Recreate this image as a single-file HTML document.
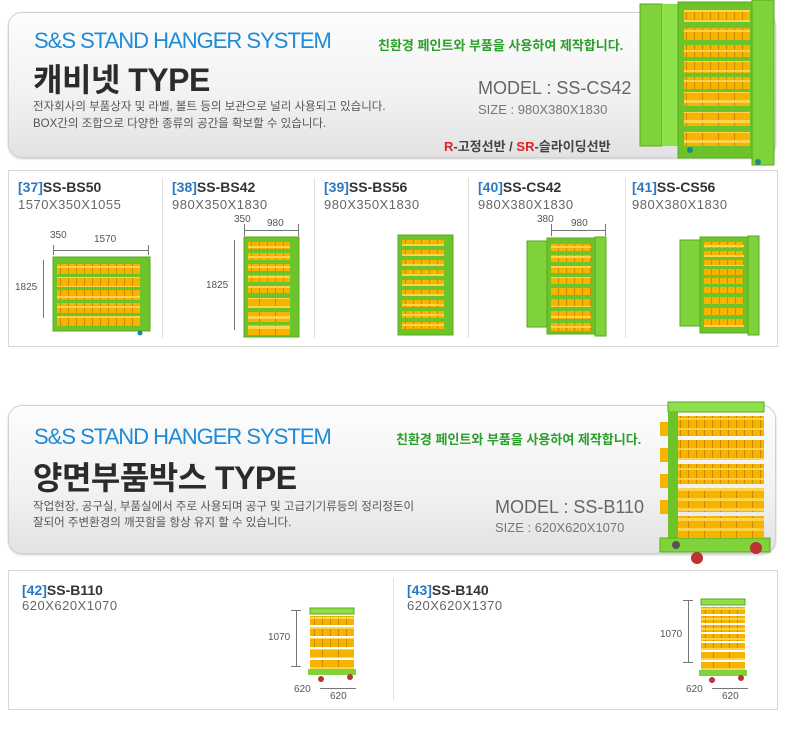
<!DOCTYPE html>
<html><head><meta charset="utf-8"><style>
body{margin:0;width:786px;height:731px;background:#fff;position:relative;overflow:hidden;font-family:"Liberation Sans","Noto Sans CJK KR",sans-serif}
.a{position:absolute;white-space:nowrap}
.ban{position:absolute;left:8px;width:766px;border:1px solid #d0d0d0;border-radius:14px;background:linear-gradient(#fdfdfd 0%,#f1f1f1 60%,#e2e2e2 100%);box-shadow:0 1px 2px #ccc}
.strip{position:absolute;left:8px;width:768px;border:1px solid #d8d8d8;background:#fff}
.sys{font-size:22px;color:#1f8ad6;letter-spacing:-1px}
.tt{font-size:32px;font-weight:bold;color:#2b2b2b;letter-spacing:-0.5px}
.ds{font-size:11.5px;color:#555;line-height:17px}
.gr{font-size:13px;font-weight:bold;color:#2aa02a}
.md{font-size:18px;color:#666}
.sz{font-size:13px;color:#777}
.pl{font-size:14px;font-weight:bold;color:#333}
.pl b{color:#2c78bf}
.ps{font-size:13px;color:#666;letter-spacing:0.5px}
.dm{font-size:10px;color:#555}
.vl{position:absolute;width:1px;background:#777}
.hl{position:absolute;height:1px;background:#777}
.vd{position:absolute;width:1px;background:#e0e0e0}
</style></head><body>
<svg width="0" height="0" style="position:absolute"><defs>
<pattern id="bn" width="8" height="10" patternUnits="userSpaceOnUse"><rect width="8" height="10" fill="#f6b400"/><rect x="0" y="0" width="1" height="10" fill="#c98a00"/><rect x="0" y="0" width="8" height="2" fill="#ffd24a"/></pattern>
<pattern id="bnb" width="16" height="10" patternUnits="userSpaceOnUse"><rect width="16" height="10" fill="#f6b400"/><rect x="0" y="0" width="1" height="10" fill="#c98a00"/><rect x="0" y="0" width="16" height="3" fill="#ffd24a"/></pattern>
</defs></svg>

<!-- Banner 1 -->
<div class="ban" style="top:12px;height:144px"></div>
<div class="a sys" style="left:34px;top:28px">S&amp;S STAND HANGER SYSTEM</div>
<div class="a tt" style="left:33px;top:55px">캐비넷 TYPE</div>
<div class="a ds" style="left:33px;top:99px">전자회사의 부품상자 및 라벨, 볼트 등의 보관으로 널리 사용되고 있습니다.<br>BOX간의 조합으로 다양한 종류의 공간을 확보할 수 있습니다.</div>
<div class="a gr" style="left:378px;top:35px">친환경 페인트와 부품을 사용하여 제작합니다.</div>
<div class="a md" style="left:478px;top:78px">MODEL : SS-CS42</div>
<div class="a sz" style="left:478px;top:102px">SIZE : 980X380X1830</div>
<div class="a" style="left:444px;top:136px;font-size:13px;font-weight:bold;color:#444"><span style="color:#e02020">R</span>-고정선반 / <span style="color:#e02020">SR</span>-슬라이딩선반</div>
<svg class="a" style="left:638px;top:0" width="140" height="168">
<rect x="2" y="4" width="22" height="142" fill="#7fd23a" stroke="#5aa820"/>
<rect x="24" y="4" width="16" height="142" fill="#8ee04a"/>
<rect x="40" y="2" width="76" height="156" fill="#6cc42a" stroke="#5aa820"/>
<rect x="114" y="0" width="22" height="165" fill="#7fd23a" stroke="#5aa820"/>
<g fill="url(#bn)"><rect x="46" y="10" width="66" height="12"/><rect x="46" y="28" width="66" height="12"/><rect x="46" y="45" width="66" height="12"/><rect x="46" y="61" width="66" height="12"/><rect x="46" y="77" width="66" height="12"/></g>
<g fill="url(#bnb)"><rect x="46" y="92" width="66" height="14"/><rect x="46" y="112" width="66" height="14"/><rect x="46" y="132" width="66" height="14"/></g>
<circle cx="52" cy="150" r="3" fill="#1a8a8a"/><circle cx="120" cy="162" r="3" fill="#1a8a8a"/>
</svg>

<!-- Strip 1 -->
<div class="strip" style="top:170px;height:175px"></div>
<div class="vd" style="left:162px;top:178px;height:160px"></div>
<div class="vd" style="left:314px;top:178px;height:160px"></div>
<div class="vd" style="left:468px;top:178px;height:160px"></div>
<div class="vd" style="left:625px;top:178px;height:160px"></div>
<div class="a pl" style="left:18px;top:179px"><b>[37]</b>SS-BS50</div><div class="a ps" style="left:18px;top:197px">1570X350X1055</div>
<div class="a pl" style="left:172px;top:179px"><b>[38]</b>SS-BS42</div><div class="a ps" style="left:172px;top:197px">980X350X1830</div>
<div class="a pl" style="left:324px;top:179px"><b>[39]</b>SS-BS56</div><div class="a ps" style="left:324px;top:197px">980X350X1830</div>
<div class="a pl" style="left:478px;top:179px"><b>[40]</b>SS-CS42</div><div class="a ps" style="left:478px;top:197px">980X380X1830</div>
<div class="a pl" style="left:632px;top:179px"><b>[41]</b>SS-CS56</div><div class="a ps" style="left:632px;top:197px">980X380X1830</div>

<!-- 37 -->
<div class="a dm" style="left:50px;top:230px">350</div><div class="a dm" style="left:94px;top:234px">1570</div>
<div class="hl" style="left:53px;top:250px;width:95px"></div><div class="vl" style="left:53px;top:245px;height:10px"></div><div class="vl" style="left:148px;top:245px;height:10px"></div>
<div class="vl" style="left:43px;top:260px;height:58px"></div><div class="a dm" style="left:15px;top:282px">1825</div>
<svg class="a" style="left:52px;top:256px" width="100" height="80">
<rect x="1" y="1" width="97" height="74" fill="#6cc42a" stroke="#5aa820"/>
<g fill="url(#bn)"><rect x="5" y="8" width="83" height="10"/><rect x="5" y="21" width="83" height="10"/><rect x="5" y="34" width="83" height="10"/><rect x="5" y="47" width="83" height="10"/><rect x="5" y="60" width="83" height="10"/></g>
<circle cx="88" cy="77" r="2.5" fill="#1a8a8a"/>
</svg>
<!-- 38 -->
<div class="a dm" style="left:234px;top:214px">350</div><div class="a dm" style="left:267px;top:218px">980</div>
<div class="hl" style="left:244px;top:230px;width:54px"></div><div class="vl" style="left:244px;top:224px;height:12px"></div><div class="vl" style="left:298px;top:224px;height:12px"></div>
<div class="vl" style="left:234px;top:240px;height:90px"></div><div class="a dm" style="left:206px;top:280px">1825</div>
<svg class="a" style="left:243px;top:236px" width="58" height="104">
<rect x="1" y="1" width="55" height="100" fill="#6cc42a" stroke="#5aa820"/>
<g fill="url(#bn)"><rect x="5" y="6" width="42" height="7"/><rect x="5" y="17" width="42" height="7"/><rect x="5" y="28" width="42" height="7"/><rect x="5" y="39" width="42" height="7"/><rect x="5" y="50" width="42" height="7"/></g>
<g fill="url(#bnb)"><rect x="5" y="62" width="42" height="10"/><rect x="5" y="76" width="42" height="10"/><rect x="5" y="89" width="42" height="10"/></g>
</svg>
<!-- 39 -->
<svg class="a" style="left:397px;top:234px" width="58" height="104">
<rect x="1" y="1" width="55" height="100" fill="#6cc42a" stroke="#5aa820"/>
<g fill="url(#bn)"><rect x="5" y="6" width="42" height="6"/><rect x="5" y="16" width="42" height="6"/><rect x="5" y="26" width="42" height="6"/><rect x="5" y="36" width="42" height="6"/><rect x="5" y="46" width="42" height="6"/><rect x="5" y="56" width="42" height="6"/><rect x="5" y="66" width="42" height="7"/><rect x="5" y="77" width="42" height="7"/><rect x="5" y="88" width="42" height="7"/></g>
</svg>
<!-- 40 -->
<div class="a dm" style="left:537px;top:214px">380</div><div class="a dm" style="left:571px;top:218px">980</div>
<div class="hl" style="left:551px;top:230px;width:54px"></div><div class="vl" style="left:551px;top:224px;height:12px"></div><div class="vl" style="left:605px;top:224px;height:12px"></div>
<svg class="a" style="left:526px;top:236px" width="82" height="102">
<rect x="1" y="5" width="20" height="86" fill="#7fd23a" stroke="#5aa820"/>
<rect x="21" y="2" width="48" height="96" fill="#6cc42a" stroke="#5aa820"/>
<rect x="69" y="1" width="11" height="99" fill="#7fd23a" stroke="#5aa820"/>
<g fill="url(#bn)"><rect x="25" y="8" width="40" height="7"/><rect x="25" y="19" width="40" height="7"/><rect x="25" y="30" width="40" height="7"/><rect x="25" y="41" width="40" height="7"/><rect x="25" y="52" width="40" height="7"/><rect x="25" y="63" width="40" height="8"/><rect x="25" y="75" width="40" height="8"/><rect x="25" y="87" width="40" height="8"/></g>
</svg>
<!-- 41 -->
<svg class="a" style="left:679px;top:235px" width="82" height="102">
<rect x="1" y="5" width="20" height="86" fill="#7fd23a" stroke="#5aa820"/>
<rect x="21" y="2" width="48" height="96" fill="#6cc42a" stroke="#5aa820"/>
<rect x="69" y="1" width="11" height="99" fill="#7fd23a" stroke="#5aa820"/>
<g fill="url(#bn)"><rect x="25" y="7" width="40" height="6"/><rect x="25" y="16" width="40" height="6"/><rect x="25" y="25" width="40" height="6"/><rect x="25" y="34" width="40" height="6"/><rect x="25" y="43" width="40" height="6"/><rect x="25" y="52" width="40" height="6"/><rect x="25" y="62" width="40" height="7"/><rect x="25" y="73" width="40" height="7"/><rect x="25" y="84" width="40" height="8"/></g>
</svg>

<!-- Banner 2 -->
<div class="ban" style="top:405px;height:147px"></div>
<div class="a sys" style="left:34px;top:424px">S&amp;S STAND HANGER SYSTEM</div>
<div class="a tt" style="left:33px;top:453px">양면부품박스 TYPE</div>
<div class="a ds" style="left:33px;top:499px;line-height:16px">작업현장, 공구실, 부품실에서 주로 사용되며 공구 및 고급기기류등의 정리정돈이<br>잘되어 주변환경의 깨끗함을 항상 유지 할 수 있습니다.</div>
<div class="a gr" style="left:396px;top:429px">친환경 페인트와 부품을 사용하여 제작합니다.</div>
<div class="a md" style="left:495px;top:497px">MODEL : SS-B110</div>
<div class="a sz" style="left:495px;top:520px">SIZE : 620X620X1070</div>
<svg class="a" style="left:656px;top:398px" width="120" height="172">
<rect x="12" y="4" width="96" height="10" fill="#8ee04a" stroke="#5aa820"/>
<rect x="12" y="14" width="10" height="130" fill="#6cc42a"/>
<rect x="4" y="140" width="110" height="14" fill="#7fd23a" stroke="#5aa820"/>
<g fill="url(#bn)"><rect x="22" y="18" width="86" height="20"/><rect x="22" y="42" width="86" height="20"/><rect x="22" y="66" width="86" height="20"/></g>
<g fill="url(#bnb)"><rect x="22" y="90" width="86" height="24"/><rect x="22" y="118" width="86" height="22"/></g>
<g fill="#f6b400"><rect x="4" y="24" width="8" height="14"/><rect x="4" y="50" width="8" height="14"/><rect x="4" y="76" width="8" height="14"/><rect x="4" y="102" width="8" height="14"/></g>
<circle cx="41" cy="160" r="6" fill="#b33"/><circle cx="100" cy="150" r="6" fill="#b33"/><circle cx="20" cy="147" r="4" fill="#555"/>
</svg>

<!-- Strip 2 -->
<div class="strip" style="top:570px;height:138px"></div>
<div class="vd" style="left:393px;top:578px;height:122px"></div>
<div class="a pl" style="left:22px;top:582px"><b>[42]</b>SS-B110</div><div class="a ps" style="left:22px;top:598px">620X620X1070</div>
<div class="a pl" style="left:407px;top:582px"><b>[43]</b>SS-B140</div><div class="a ps" style="left:407px;top:598px">620X620X1370</div>
<!-- 42 -->
<div class="vl" style="left:296px;top:610px;height:56px"></div><div class="hl" style="left:291px;top:610px;width:10px"></div><div class="hl" style="left:291px;top:666px;width:10px"></div>
<div class="a dm" style="left:268px;top:632px">1070</div>
<div class="a dm" style="left:294px;top:684px">620</div><div class="a dm" style="left:330px;top:691px">620</div>
<div class="hl" style="left:320px;top:688px;width:36px"></div>
<svg class="a" style="left:306px;top:607px" width="52" height="80">
<rect x="4" y="1" width="44" height="6" fill="#8ee04a" stroke="#5aa820"/>
<rect x="2" y="62" width="48" height="6" fill="#7fd23a"/>
<g fill="url(#bn)"><rect x="4" y="9" width="44" height="9"/><rect x="4" y="20" width="44" height="9"/><rect x="4" y="31" width="44" height="9"/></g>
<g fill="url(#bnb)"><rect x="4" y="42" width="44" height="9"/><rect x="4" y="53" width="44" height="9"/></g>
<circle cx="15" cy="72" r="3" fill="#b33"/><circle cx="44" cy="70" r="3" fill="#b33"/>
</svg>
<!-- 43 -->
<div class="vl" style="left:688px;top:600px;height:62px"></div><div class="hl" style="left:683px;top:600px;width:10px"></div><div class="hl" style="left:683px;top:662px;width:10px"></div>
<div class="a dm" style="left:660px;top:629px">1070</div>
<div class="a dm" style="left:686px;top:684px">620</div><div class="a dm" style="left:722px;top:691px">620</div>
<div class="hl" style="left:712px;top:688px;width:36px"></div>
<svg class="a" style="left:697px;top:598px" width="52" height="90">
<rect x="4" y="1" width="44" height="6" fill="#8ee04a" stroke="#5aa820"/>
<rect x="2" y="72" width="48" height="6" fill="#7fd23a"/>
<g fill="url(#bn)"><rect x="4" y="9" width="44" height="7"/><rect x="4" y="18" width="44" height="7"/><rect x="4" y="27" width="44" height="7"/><rect x="4" y="36" width="44" height="7"/><rect x="4" y="45" width="44" height="7"/></g>
<g fill="url(#bnb)"><rect x="4" y="54" width="44" height="8"/><rect x="4" y="64" width="44" height="8"/></g>
<circle cx="15" cy="82" r="3" fill="#b33"/><circle cx="44" cy="80" r="3" fill="#b33"/>
</svg>
</body></html>
